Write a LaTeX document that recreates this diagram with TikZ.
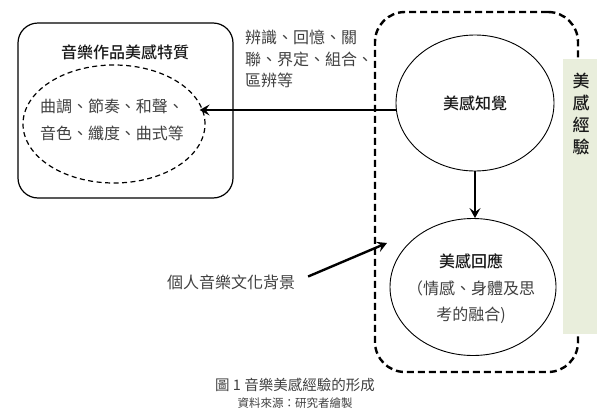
\documentclass[tikz,border=0pt]{standalone}
\usepackage{fontspec}
\setmainfont{Noto Sans CJK TC}[BoldFont={* Medium}]
\usetikzlibrary{shapes.geometric,arrows.meta}
\definecolor{txtgray}{HTML}{404040}
\definecolor{barGreen}{HTML}{E9EEDC}
\tikzset{
  body/.style={font=\fontsize{16}{26.5}\selectfont, text=txtgray},
  bodybold/.style={font=\fontsize{16}{26.5}\selectfont\bfseries, text=black!90},
  thickarrow/.style={line width=2.4pt, -{Stealth[length=10pt,width=11pt,inset=4pt]}},
  plainell/.style={draw, ellipse, line width=0.9pt, inner sep=0pt},
}
\begin{document}
\begin{tikzpicture}[x=1pt,y=-1pt]
\useasboundingbox (0,0) rectangle (600,418);
% left box
\node[draw, rounded corners=20pt, line width=1.2pt, minimum width=215pt, minimum height=175pt, inner sep=0pt] (box) at (125.5,110.5) {};
\node[bodybold] (title) at (125,52) {音樂作品美感特質};
\node[draw, ellipse, dash pattern=on 5pt off 3.5pt, line width=1.2pt, minimum width=182pt, minimum height=118pt, inner sep=0pt] (feat) at (114,124) {};
\node[body, align=center, inner sep=0pt] (feattxt) at (112,120) {曲調、節奏、和聲、\\音色、纖度、曲式等};
% right dashed region
\node[draw, rounded corners=30pt, line width=2.4pt, dash pattern=on 7pt off 4pt, minimum width=203pt, minimum height=360pt, inner sep=0pt] (region) at (476.5,192) {};
% green bar
\node[fill=barGreen, minimum width=34pt, minimum height=275pt, inner sep=0pt] (bar) at (580,196) {};
\node[font=\fontsize{17}{22}\selectfont\bfseries, text=black!90, align=center] (exp) at (581,114) {美\\感\\經\\驗};
% ellipses
\node[plainell, minimum width=158pt, minimum height=136pt, bodybold] (perc) at (475,103) {美感知覺};
\node[plainell, minimum width=166pt, minimum height=137pt] (resp) at (473,287) {};
\node[body, align=center, inner sep=0pt] (resptxt) at (471,289) {\textbf{\textcolor{black!90}{美感回應}}\\（情感、身體及思\\考的融合)};
% labels
\node[font=\fontsize{16}{21.5}\selectfont, text=txtgray, align=left, anchor=north west, inner sep=0pt] (ops) at (245,30) {辨識、回憶、關\\聯、界定、組合、\\區辨等};
\node[body, inner sep=0pt] (bg) at (231,282) {個人音樂文化背景};
\coordinate (bgtip) at (387,243);
% arrows
\draw[thickarrow, shorten >=-6pt] ([yshift=-7pt]perc.west) -- ([yshift=-7pt]perc.west -| feat.east);
\draw[thickarrow] (perc.south) -- (perc.south |- resp.north);
\draw[thickarrow, shorten <=14pt] (bg.east) -- (bgtip);
% caption
\node[font=\fontsize{14.5}{16}\selectfont, text=txtgray] (cap) at (295,385) {圖 1 音樂美感經驗的形成};
\node[font=\fontsize{11.5}{13}\selectfont, text=txtgray] (src) at (295,403) {資料來源：研究者繪製};
\end{tikzpicture}
\end{document}
